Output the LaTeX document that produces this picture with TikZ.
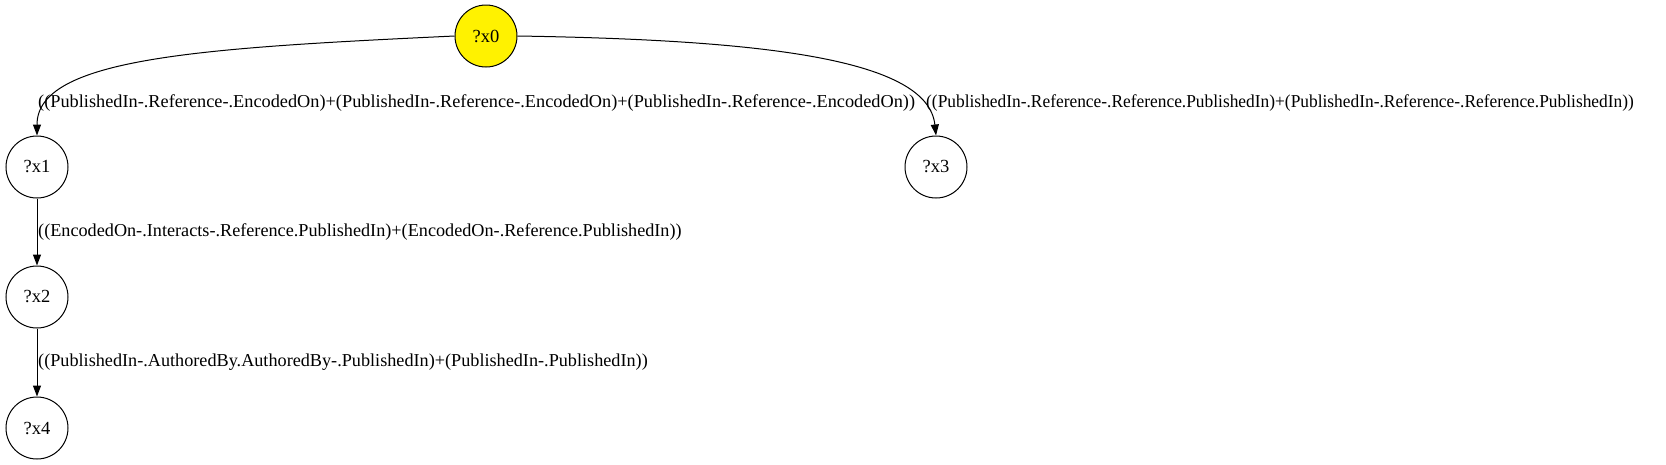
\documentclass[tikz,border=0pt]{standalone}
\usepackage{fontspec}
\setmainfont{Liberation Serif}
\usetikzlibrary{arrows.meta}
\begin{document}
\begin{tikzpicture}[x=1pt,y=-1pt,
  vnode/.style={circle,draw,line width=1pt,minimum size=62pt,inner sep=0pt,font=\fontsize{18.5}{20}\selectfont},
  elabel/.style={anchor=west,inner sep=0pt,font=\fontsize{18.2}{20}\selectfont},
  edge/.style={line width=1pt,-{Triangle[length=11pt,width=8pt]}}]
\useasboundingbox (0,0) rectangle (1666,464);
\node[vnode,fill=yellow] (x0) at (486,36) {?x0};
\node[vnode] (x1) at (37,167) {?x1};
\node[vnode] (x2) at (37,297) {?x2};
\node[vnode] (x4) at (37,428) {?x4};
\node[vnode] (x3) at (936,167) {?x3};
\draw[edge] (x0.west) .. controls (200,48) and (37,58) .. (x1.north);
\draw[edge] (x0.east) .. controls (770,40) and (928,60) .. (x3.north);
\draw[edge] (x1) -- (x2);
\draw[edge] (x2) -- (x4);
\node[elabel] (l1) at (38,103) {\scalebox{1.005}[1]{((PublishedIn-.Reference-.EncodedOn)+(PublishedIn-.Reference-.EncodedOn)+(PublishedIn-.Reference-.EncodedOn))}};
\node[elabel] (l2) at (926,103) {\scalebox{0.955}[1]{((PublishedIn-.Reference-.Reference.PublishedIn)+(PublishedIn-.Reference-.Reference.PublishedIn))}};
\node[elabel] (l3) at (38,232) {((EncodedOn-.Interacts-.Reference.PublishedIn)+(EncodedOn-.Reference.PublishedIn))};
\node[elabel] (l4) at (38,362) {((PublishedIn-.AuthoredBy.AuthoredBy-.PublishedIn)+(PublishedIn-.PublishedIn))};
\end{tikzpicture}
\end{document}
